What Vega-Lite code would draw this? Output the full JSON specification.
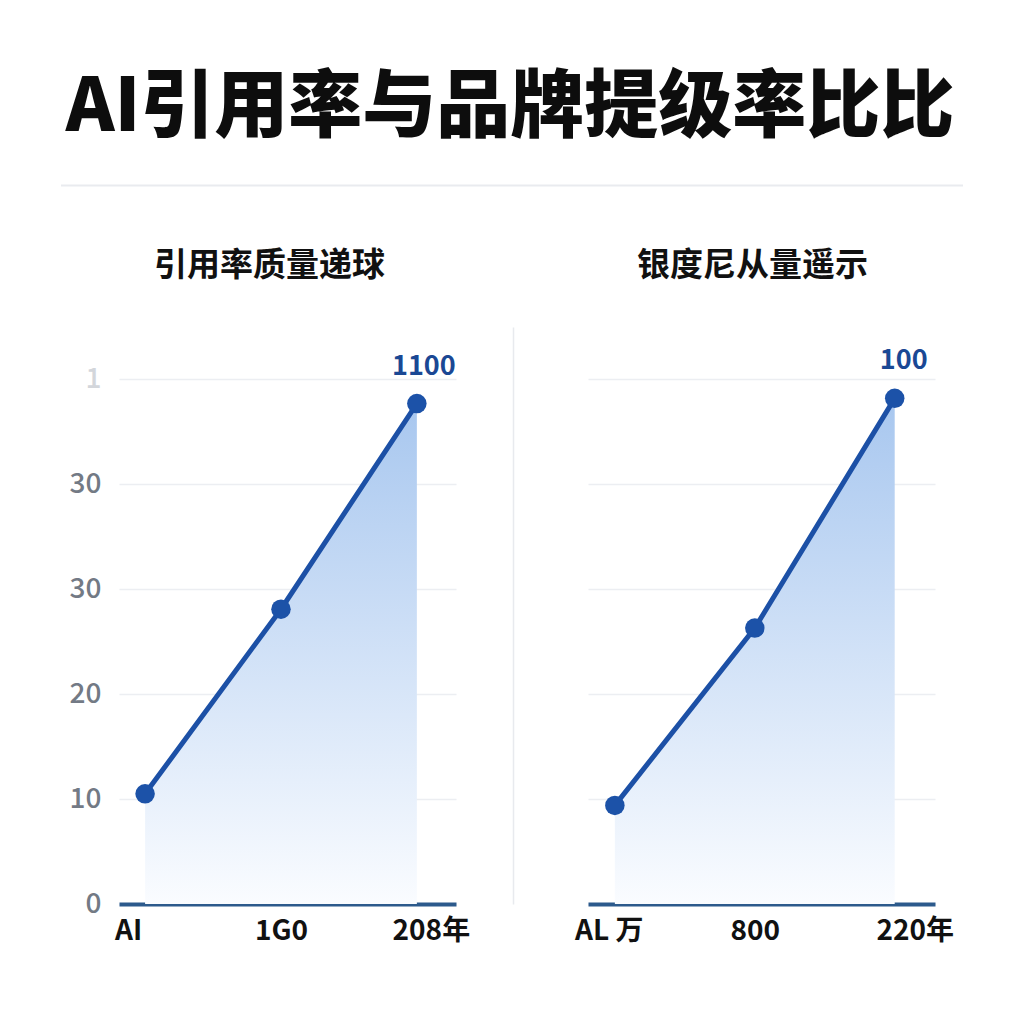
{
  "$schema": "https://vega.github.io/schema/vega-lite/v6.json",
  "background": "#ffffff",
  "padding": {"left": 60, "top": 71, "right": 40, "bottom": 20},
  "config": {
    "view": {"stroke": null},
    "font": "Noto Sans CJK SC",
    "axis": {"labelFont": "Noto Sans CJK SC"}
  },
  "datasets": {
    "left": [
      {"cat": "AI", "v": 10.5, "label": ""},
      {"cat": "1G0", "v": 28.1, "label": ""},
      {"cat": "208年", "v": 47.7, "label": "1100"}
    ],
    "right": [
      {"cat": "AL 万", "v": 9.4, "label": ""},
      {"cat": "800", "v": 26.3, "label": ""},
      {"cat": "220年", "v": 48.2, "label": "100"}
    ],
    "sep": [{"a": 0, "b": 1}]
  },
  "spacing": 63,
  "vconcat": [
    {
      "data": {"name": "sep"},
      "title": {
        "text": "AI引用率与品牌提级率比比",
        "fontSize": 74,
        "fontWeight": 900,
        "color": "#0d0d0d",
        "anchor": "middle",
        "dx": -31,
        "offset": 38
      },
      "width": 844,
      "height": 1,
      "mark": {"type": "rule", "color": "#e9ebef", "strokeWidth": 2},
      "encoding": {
        "x": {"field": "a", "type": "quantitative", "axis": null, "scale": {"domain": [0, 1], "range": [-58, 844]}},
        "x2": {"field": "b"}
      }
    },
    {
      "spacing": 43,
      "hconcat": [
        {
          "data": {"name": "left"},
          "title": {"text": "引用率质量递球", "fontSize": 33, "fontWeight": "bold", "color": "#111111", "offset": 44, "frame": "group", "dx": -18},
          "width": 337,
          "height": 577,
          "encoding": {
            "x": {
              "field": "cat", "type": "ordinal", "sort": null, "title": null,
              "scale": {"type": "point", "padding": 0.24, "align": 0.4},
              "axis": {
                "labelAngle": 0, "labelFontSize": 28, "labelFontWeight": 600, "labelColor": "#111111", "labelPadding": 13,
                "labelOffset": {"condition": [{"test": "datum.value == 'AI'", "value": -17}, {"test": "datum.value == '208年'", "value": 14}], "value": 0},
                "ticks": false, "domainColor": "#2c5a8c", "domainWidth": 4, "grid": false
              }
            },
            "y": {
              "field": "v", "type": "quantitative", "title": null,
              "scale": {"domain": [0, 55], "nice": false},
              "axis": {
                "values": [0, 10, 20, 30, 40, 50],
                "labelExpr": "datum.value == 40 ? '30' : datum.value == 50 ? '1' : datum.label",
                "labelFontSize": 28, "labelFontWeight": 500,
                "labelColor": {"condition": {"test": "datum.value == 50", "value": "#d3d6db"}, "value": "#737a85"},
                "labelPadding": 18, "minExtent": 58, "ticks": false, "domain": false,
                "gridColor": "#eceef2", "gridWidth": 1.5
              }
            }
          },
          "layer": [
            {
              "mark": {
                "type": "area",
                "fill": {"x1": 0, "y1": 0, "x2": 0, "y2": 1, "gradient": "linear",
                  "stops": [{"offset": 0, "color": "#a8c7ef"}, {"offset": 1, "color": "#fafcff"}]}
              }
            },
            {"mark": {"type": "line", "color": "#1c50a6", "strokeWidth": 5}},
            {"mark": {"type": "point", "filled": true, "opacity": 1, "color": "#1c52a8", "size": 380}},
            {
              "mark": {"type": "text", "dy": -37, "dx": 7, "fontSize": 27, "fontWeight": "bold", "color": "#1a4894"},
              "encoding": {"text": {"field": "label"}}
            }
          ]
        },
        {
          "data": {"name": "right"},
          "title": {"text": "银度尼从量遥示", "fontSize": 33, "fontWeight": "bold", "color": "#111111", "offset": 44, "frame": "group", "dx": -9},
          "width": 347,
          "height": 577,
          "encoding": {
            "x": {
              "field": "cat", "type": "ordinal", "sort": null, "title": null,
              "scale": {"type": "point", "padding": 0.24, "align": 0.4},
              "axis": {
                "labelAngle": 0, "labelFontSize": 28, "labelFontWeight": 600, "labelColor": "#111111", "labelPadding": 13,
                "labelOffset": {"condition": [{"test": "datum.value == 'AL 万'", "value": -6}, {"test": "datum.value == '220年'", "value": 20}], "value": 0},
                "ticks": false, "domainColor": "#2c5a8c", "domainWidth": 4, "grid": false
              }
            },
            "y": {
              "field": "v", "type": "quantitative", "title": null,
              "scale": {"domain": [0, 55], "nice": false},
              "axis": {
                "values": [0, 10, 20, 30, 40, 50],
                "labels": false, "ticks": false, "offset": 75,
                "domain": true, "domainColor": "#e8eaee", "domainWidth": 1.5,
                "gridColor": "#eceef2", "gridWidth": 1.5
              }
            }
          },
          "layer": [
            {
              "mark": {
                "type": "area",
                "fill": {"x1": 0, "y1": 0, "x2": 0, "y2": 1, "gradient": "linear",
                  "stops": [{"offset": 0, "color": "#a8c7ef"}, {"offset": 1, "color": "#fafcff"}]}
              }
            },
            {"mark": {"type": "line", "color": "#1c50a6", "strokeWidth": 5}},
            {"mark": {"type": "point", "filled": true, "opacity": 1, "color": "#1c52a8", "size": 380}},
            {
              "mark": {"type": "text", "dy": -37, "dx": 9, "fontSize": 27, "fontWeight": "bold", "color": "#1a4894"},
              "encoding": {"text": {"field": "label"}}
            }
          ]
        }
      ]
    }
  ]
}
